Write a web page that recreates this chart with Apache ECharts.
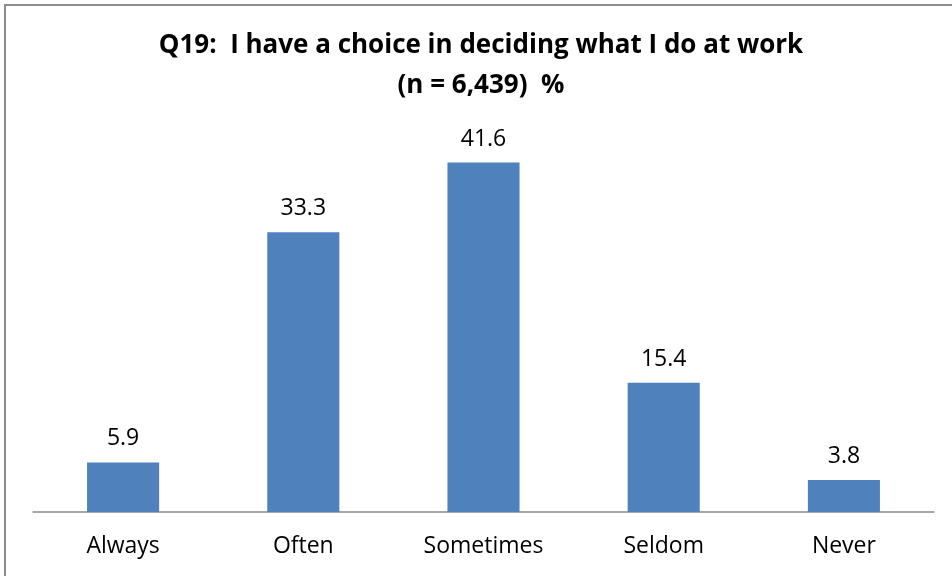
<!DOCTYPE html>
<html>
<head>
<meta charset="utf-8">
<style>
  html, body { margin: 0; padding: 0; background: #fff; }
  #chart { width: 952px; height: 576px; }
</style>
<script src="https://cdn.jsdelivr.net/npm/echarts@6/dist/echarts.min.js"></script>
</head>
<body>
<div id="chart"></div>
<script>
// Survey responses, percent of respondents
const categories = ['Always', 'Often', 'Sometimes', 'Seldom', 'Never'];
const percents = [5.9, 33.3, 41.6, 15.4, 3.8];
const titleLines = ['Q19:  I have a choice in deciding what I do at work', '(n = 6,439)  %'];

const FONT = '"Open Sans", "Liberation Sans", sans-serif';
const chart = echarts.init(document.getElementById('chart'), null, { renderer: 'canvas' });

chart.setOption({
  animation: false,
  backgroundColor: '#ffffff',
  textStyle: { fontFamily: FONT },
  graphic: [{
    type: 'rect',
    shape: { x: 5, y: 5, width: 1200, height: 1200 },
    style: { fill: 'none', stroke: '#8c8c8c', lineWidth: 2 },
    silent: true
  }],
  title: {
    text: titleLines.join('\n'),
    left: 476,
    textAlign: 'center',
    top: 21,
    textStyle: {
      fontFamily: FONT,
      fontWeight: 'bold',
      fontSize: 26,
      lineHeight: 40,
      color: '#000'
    }
  },
  grid: { left: 33, right: 18, top: 134, bottom: 64, containLabel: false },
  xAxis: {
    type: 'category',
    data: categories,
    axisLine: { lineStyle: { color: '#8c8c8c', width: 1.5 } },
    axisTick: { show: false },
    axisLabel: { color: '#000', fontSize: 23, margin: 23, fontFamily: FONT }
  },
  yAxis: {
    type: 'value',
    min: 0,
    max: 45,
    show: false,
    splitLine: { show: false }
  },
  series: [{
    type: 'bar',
    data: percents,
    barWidth: '40%',
    itemStyle: { color: '#4f81bd' },
    label: {
      show: true,
      position: 'top',
      distance: 12,
      color: '#000',
      fontSize: 23,
      fontFamily: FONT,
      formatter: (p) => p.value.toFixed(1)
    }
  }]
});
</script>
</body>
</html>
